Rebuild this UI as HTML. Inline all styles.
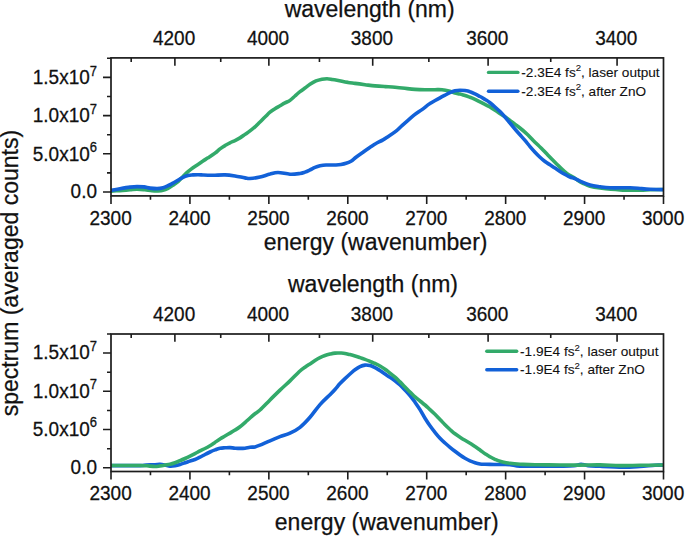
<!DOCTYPE html><html><head><meta charset="utf-8"><style>html,body{margin:0;padding:0;background:#fff;}svg{display:block;}text{font-family:"Liberation Sans",sans-serif;fill:#111;stroke:#111;stroke-width:0.25px;}</style></head><body>
<svg width="685" height="536" viewBox="0 0 685 536">
<clipPath id="cp0"><rect x="111.0" y="57.9" width="552.5" height="138.0"/></clipPath>
<path d="M110.0,191.2 C111.7,191.1 116.7,190.8 120.0,190.6 C123.3,190.4 127.2,190.0 130.0,189.8 C132.8,189.6 134.5,189.3 137.0,189.3 C139.5,189.3 142.5,189.6 145.0,189.8 C147.5,190.1 149.8,190.6 152.0,190.8 C154.2,191.0 156.2,191.1 158.0,191.0 C159.8,190.9 161.3,190.8 163.0,190.3 C164.7,189.9 166.3,189.2 168.0,188.3 C169.7,187.5 171.3,186.3 173.0,185.2 C174.7,184.1 176.3,183.1 178.0,181.6 C179.7,180.1 181.3,178.1 183.0,176.4 C184.7,174.8 186.3,173.1 188.0,171.7 C189.7,170.3 191.3,169.0 193.0,167.8 C194.7,166.6 196.3,165.5 198.0,164.4 C199.7,163.3 201.3,162.1 203.0,161.0 C204.7,159.9 206.0,159.1 208.0,157.8 C210.0,156.5 213.0,154.6 215.0,153.1 C217.0,151.6 218.3,150.2 220.0,148.9 C221.7,147.7 223.3,146.6 225.0,145.6 C226.7,144.6 228.3,143.6 230.0,142.8 C231.7,142.0 233.3,141.4 235.0,140.6 C236.7,139.8 238.3,138.9 240.0,137.9 C241.7,136.9 243.3,135.6 245.0,134.4 C246.7,133.2 248.3,132.2 250.0,130.9 C251.7,129.6 253.3,128.3 255.0,126.8 C256.7,125.3 258.3,123.6 260.0,122.0 C261.7,120.4 263.3,118.6 265.0,117.0 C266.7,115.4 268.3,113.6 270.0,112.2 C271.7,110.8 273.3,109.8 275.0,108.7 C276.7,107.6 278.3,106.8 280.0,105.8 C281.7,104.8 283.3,103.8 285.0,102.9 C286.7,102.0 288.3,101.6 290.0,100.4 C291.7,99.2 293.3,97.5 295.0,96.0 C296.7,94.5 298.3,92.9 300.0,91.6 C301.7,90.3 303.3,89.2 305.0,88.0 C306.7,86.8 308.2,85.5 310.0,84.3 C311.8,83.1 314.0,81.8 316.0,80.9 C318.0,80.1 320.2,79.6 322.0,79.2 C323.8,78.8 325.3,78.7 327.0,78.7 C328.7,78.7 330.3,79.1 332.0,79.4 C333.7,79.7 335.3,80.0 337.0,80.3 C338.7,80.6 340.2,80.9 342.0,81.3 C343.8,81.7 345.8,82.1 348.0,82.4 C350.2,82.8 352.2,83.0 355.0,83.4 C357.8,83.8 361.7,84.3 365.0,84.7 C368.3,85.1 371.7,85.6 375.0,85.9 C378.3,86.2 381.7,86.4 385.0,86.6 C388.3,86.8 391.7,86.9 395.0,87.2 C398.3,87.5 401.7,87.9 405.0,88.3 C408.3,88.7 411.7,89.2 415.0,89.4 C418.3,89.7 421.7,89.8 425.0,89.8 C428.3,89.8 432.2,89.7 435.0,89.7 C437.8,89.7 439.5,89.5 442.0,89.8 C444.5,90.1 447.8,90.8 450.0,91.3 C452.2,91.8 453.3,92.6 455.0,93.1 C456.7,93.6 458.3,93.7 460.0,94.1 C461.7,94.5 463.3,95.1 465.0,95.6 C466.7,96.1 468.3,96.7 470.0,97.3 C471.7,97.9 473.3,98.6 475.0,99.4 C476.7,100.2 478.3,101.1 480.0,101.9 C481.7,102.7 483.3,103.6 485.0,104.4 C486.7,105.2 487.8,105.7 490.0,107.0 C492.2,108.3 495.8,110.9 498.0,112.3 C500.2,113.7 501.3,114.5 503.0,115.6 C504.7,116.7 506.3,117.8 508.0,119.0 C509.7,120.2 511.3,121.5 513.0,122.7 C514.7,124.0 516.3,125.2 518.0,126.5 C519.7,127.8 521.3,129.1 523.0,130.5 C524.7,131.9 526.3,133.4 528.0,135.0 C529.7,136.6 531.3,138.5 533.0,140.2 C534.7,141.9 536.3,143.4 538.0,145.0 C539.7,146.6 541.3,148.3 543.0,150.0 C544.7,151.7 546.3,153.5 548.0,155.2 C549.7,156.9 551.3,158.6 553.0,160.3 C554.7,162.0 556.3,163.7 558.0,165.3 C559.7,167.0 561.3,168.7 563.0,170.2 C564.7,171.7 566.3,173.2 568.0,174.3 C569.7,175.4 571.3,176.0 573.0,177.0 C574.7,178.0 576.3,179.4 578.0,180.5 C579.7,181.6 581.0,182.4 583.0,183.3 C585.0,184.2 587.2,185.4 590.0,186.2 C592.8,187.0 595.0,187.4 600.0,188.0 C605.0,188.6 613.3,189.5 620.0,189.9 C626.7,190.3 635.0,190.2 640.0,190.2 C645.0,190.2 646.2,189.8 650.0,189.7 C653.8,189.6 660.8,189.5 663.0,189.5" fill="none" stroke="#33aa6a" stroke-width="3.6" stroke-linejoin="round" clip-path="url(#cp0)"/>
<path d="M110.0,190.6 C111.7,190.3 116.7,189.3 120.0,188.7 C123.3,188.1 127.2,187.4 130.0,187.1 C132.8,186.8 134.7,186.6 137.0,186.6 C139.3,186.6 141.8,186.7 144.0,186.9 C146.2,187.2 147.8,187.8 150.0,188.1 C152.2,188.4 154.8,188.6 157.0,188.6 C159.2,188.6 161.2,188.3 163.0,187.8 C164.8,187.3 166.3,186.5 168.0,185.7 C169.7,184.9 171.3,184.0 173.0,183.1 C174.7,182.2 176.3,181.2 178.0,180.2 C179.7,179.2 181.3,178.1 183.0,177.3 C184.7,176.5 186.3,176.0 188.0,175.6 C189.7,175.2 191.3,175.1 193.0,174.9 C194.7,174.8 196.3,174.7 198.0,174.7 C199.7,174.7 201.3,174.9 203.0,175.0 C204.7,175.1 206.0,175.2 208.0,175.2 C210.0,175.2 212.2,175.2 215.0,175.2 C217.8,175.1 221.7,174.8 225.0,174.9 C228.3,175.0 231.7,175.5 235.0,176.0 C238.3,176.5 242.5,177.5 245.0,177.9 C247.5,178.3 247.5,178.7 250.0,178.5 C252.5,178.3 256.7,177.7 260.0,177.0 C263.3,176.3 267.0,174.8 270.0,174.1 C273.0,173.3 274.7,172.5 278.0,172.5 C281.3,172.5 286.3,174.0 290.0,174.2 C293.7,174.4 297.5,173.8 300.0,173.5 C302.5,173.2 303.3,172.7 305.0,172.1 C306.7,171.5 308.3,170.7 310.0,169.9 C311.7,169.1 313.3,168.1 315.0,167.4 C316.7,166.7 318.2,166.2 320.0,165.8 C321.8,165.4 323.3,165.1 326.0,165.0 C328.7,164.9 333.5,165.1 336.0,165.0 C338.5,164.9 339.3,164.8 341.0,164.5 C342.7,164.2 344.3,163.9 346.0,163.3 C347.7,162.8 349.3,162.2 351.0,161.2 C352.7,160.2 354.0,158.7 356.0,157.2 C358.0,155.7 360.7,153.8 363.0,152.2 C365.3,150.5 367.8,148.8 370.0,147.3 C372.2,145.9 373.8,144.7 376.0,143.5 C378.2,142.3 380.8,141.2 383.0,139.9 C385.2,138.7 386.8,137.4 389.0,136.0 C391.2,134.6 393.8,132.9 396.0,131.2 C398.2,129.5 400.0,127.4 402.0,125.6 C404.0,123.8 406.0,122.0 408.0,120.3 C410.0,118.6 411.7,117.0 414.0,115.2 C416.3,113.4 419.3,111.5 422.0,109.6 C424.7,107.7 427.0,105.5 430.0,103.6 C433.0,101.6 437.5,99.3 440.0,97.9 C442.5,96.5 443.3,96.1 445.0,95.2 C446.7,94.3 448.3,93.4 450.0,92.7 C451.7,92.0 453.3,91.2 455.0,90.8 C456.7,90.4 458.3,90.2 460.0,90.2 C461.7,90.2 463.3,90.3 465.0,90.6 C466.7,90.9 468.3,91.2 470.0,91.8 C471.7,92.3 473.3,93.1 475.0,93.9 C476.7,94.7 478.3,95.6 480.0,96.5 C481.7,97.4 483.3,98.4 485.0,99.4 C486.7,100.5 488.3,101.5 490.0,102.8 C491.7,104.1 493.3,105.5 495.0,107.0 C496.7,108.5 498.3,109.9 500.0,111.6 C501.7,113.3 503.3,115.1 505.0,117.0 C506.7,118.9 508.3,121.0 510.0,123.0 C511.7,125.0 513.3,127.2 515.0,129.2 C516.7,131.2 518.3,132.9 520.0,134.8 C521.7,136.7 523.3,138.4 525.0,140.4 C526.7,142.4 528.3,144.6 530.0,146.6 C531.7,148.6 533.3,150.4 535.0,152.2 C536.7,154.0 538.3,155.6 540.0,157.2 C541.7,158.8 543.3,160.2 545.0,161.5 C546.7,162.8 548.3,163.7 550.0,164.8 C551.7,165.9 553.3,167.0 555.0,168.1 C556.7,169.2 558.3,170.4 560.0,171.5 C561.7,172.6 563.3,173.5 565.0,174.4 C566.7,175.3 568.3,176.3 570.0,177.0 C571.7,177.7 573.3,177.9 575.0,178.6 C576.7,179.3 577.5,180.0 580.0,181.1 C582.5,182.2 586.7,184.0 590.0,184.9 C593.3,185.8 596.7,186.2 600.0,186.7 C603.3,187.2 605.0,187.6 610.0,187.8 C615.0,188.0 625.0,187.7 630.0,187.8 C635.0,187.9 636.7,188.2 640.0,188.5 C643.3,188.8 646.2,189.1 650.0,189.3 C653.8,189.5 660.8,189.6 663.0,189.6" fill="none" stroke="#1261d8" stroke-width="3.6" stroke-linejoin="round" clip-path="url(#cp0)"/>
<rect x="111.00" y="57.90" width="552.50" height="138.00" fill="none" stroke="#1c1c1c" stroke-width="1.7"/>
<path d="M111.00,195.90v8.00 M150.46,195.90v3.80 M189.93,195.90v8.00 M229.39,195.90v3.80 M268.86,195.90v8.00 M308.32,195.90v3.80 M347.79,195.90v8.00 M387.25,195.90v3.80 M426.71,195.90v8.00 M466.18,195.90v3.80 M505.64,195.90v8.00 M545.11,195.90v3.80 M584.57,195.90v8.00 M624.04,195.90v3.80 M663.50,195.90v8.00 M111.00,192.00h-8.00 M111.00,172.90h-4.00 M111.00,153.80h-8.00 M111.00,134.70h-4.00 M111.00,115.60h-8.00 M111.00,96.50h-4.00 M111.00,77.40h-8.00 M111.00,58.30h-4.00 M617.07,57.90v7.80 M550.74,57.90v4.00 M488.10,57.90v7.80 M428.85,57.90v4.00 M372.71,57.90v7.80 M319.45,57.90v4.00 M268.86,57.90v7.80 M220.73,57.90v4.00 M174.89,57.90v7.80 M131.19,57.90v4.00" stroke="#1c1c1c" stroke-width="1.6" fill="none"/>
<text transform="translate(110.60,225.00) scale(1,1.07)" font-size="19" text-anchor="middle">2300</text>
<text transform="translate(189.53,225.00) scale(1,1.07)" font-size="19" text-anchor="middle">2400</text>
<text transform="translate(268.46,225.00) scale(1,1.07)" font-size="19" text-anchor="middle">2500</text>
<text transform="translate(347.39,225.00) scale(1,1.07)" font-size="19" text-anchor="middle">2600</text>
<text transform="translate(426.31,225.00) scale(1,1.07)" font-size="19" text-anchor="middle">2700</text>
<text transform="translate(505.24,225.00) scale(1,1.07)" font-size="19" text-anchor="middle">2800</text>
<text transform="translate(584.17,225.00) scale(1,1.07)" font-size="19" text-anchor="middle">2900</text>
<text transform="translate(663.10,225.00) scale(1,1.07)" font-size="19" text-anchor="middle">3000</text>
<text transform="translate(174.09,45.00) scale(1,1.07)" font-size="19" text-anchor="middle">4200</text>
<text transform="translate(268.06,45.00) scale(1,1.07)" font-size="19" text-anchor="middle">4000</text>
<text transform="translate(371.91,45.00) scale(1,1.07)" font-size="19" text-anchor="middle">3800</text>
<text transform="translate(487.30,45.00) scale(1,1.07)" font-size="19" text-anchor="middle">3600</text>
<text transform="translate(616.27,45.00) scale(1,1.07)" font-size="19" text-anchor="middle">3400</text>
<text transform="translate(97,198.20) scale(1,1.07)" font-size="19" text-anchor="end">0.0</text>
<text transform="translate(97,160.50) scale(1,1.07)" font-size="19" text-anchor="end">5.0x10<tspan font-size="13" dy="-8">6</tspan></text>
<text transform="translate(97,122.30) scale(1,1.07)" font-size="19" text-anchor="end">1.0x10<tspan font-size="13" dy="-8">7</tspan></text>
<text transform="translate(97,84.10) scale(1,1.07)" font-size="19" text-anchor="end">1.5x10<tspan font-size="13" dy="-8">7</tspan></text>
<text x="369.70" y="17.20" font-size="23" text-anchor="middle">wavelength (nm)</text>
<text x="375.60" y="250.00" font-size="23" text-anchor="middle">energy (wavenumber)</text>
<path d="M488.5,72.4H517.9" stroke-width="3.4" stroke-linecap="round" fill="none" stroke="#33aa6a"/>
<path d="M488.5,91.2H517.9" stroke-width="3.4" stroke-linecap="round" fill="none" stroke="#1261d8"/>
<text x="521.3" y="76.7" font-size="13.6" style="stroke-width:0.1px">-2.3E4 fs<tspan font-size="9.6" dy="-5.4">2</tspan><tspan dy="5.4">, laser output</tspan></text>
<text x="521.3" y="95.5" font-size="13.6" style="stroke-width:0.1px">-2.3E4 fs<tspan font-size="9.6" dy="-5.4">2</tspan><tspan dy="5.4">, after ZnO</tspan></text>
<clipPath id="cp1"><rect x="111.0" y="334.0" width="552.5" height="137.5"/></clipPath>
<path d="M110.0,465.6 C115.0,465.6 134.0,465.7 140.0,465.6 C146.0,465.5 143.5,465.1 146.0,465.0 C148.5,464.9 152.7,464.8 155.0,464.7 C157.3,464.6 158.3,464.3 160.0,464.4 C161.7,464.5 163.3,464.8 165.0,465.1 C166.7,465.4 168.3,466.0 170.0,466.1 C171.7,466.2 173.3,466.0 175.0,465.7 C176.7,465.4 178.3,465.0 180.0,464.5 C181.7,464.0 183.3,463.4 185.0,462.8 C186.7,462.2 188.3,461.7 190.0,461.1 C191.7,460.6 193.3,460.1 195.0,459.5 C196.7,458.9 198.3,458.0 200.0,457.2 C201.7,456.4 203.3,455.4 205.0,454.5 C206.7,453.6 208.3,452.8 210.0,452.0 C211.7,451.2 213.3,450.5 215.0,449.9 C216.7,449.2 218.3,448.5 220.0,448.2 C221.7,447.9 223.3,447.9 225.0,447.8 C226.7,447.7 228.3,447.5 230.0,447.6 C231.7,447.7 233.3,448.1 235.0,448.2 C236.7,448.3 238.3,448.4 240.0,448.4 C241.7,448.4 243.3,448.4 245.0,448.2 C246.7,448.0 248.3,447.5 250.0,447.3 C251.7,447.1 253.3,447.2 255.0,446.9 C256.7,446.5 257.5,446.2 260.0,445.2 C262.5,444.2 266.7,442.2 270.0,440.8 C273.3,439.4 276.7,438.0 280.0,436.7 C283.3,435.4 286.7,434.8 290.0,433.2 C293.3,431.6 296.7,429.9 300.0,427.3 C303.3,424.7 306.7,421.1 310.0,417.3 C313.3,413.5 316.7,408.4 320.0,404.6 C323.3,400.8 327.5,397.2 330.0,394.7 C332.5,392.2 333.3,391.4 335.0,389.5 C336.7,387.6 338.3,385.4 340.0,383.6 C341.7,381.8 343.3,380.2 345.0,378.6 C346.7,377.0 348.3,375.5 350.0,374.0 C351.7,372.5 353.3,370.9 355.0,369.7 C356.7,368.5 358.3,367.4 360.0,366.6 C361.7,365.8 363.3,365.3 365.0,365.1 C366.7,364.9 368.3,365.2 370.0,365.6 C371.7,366.0 373.3,366.9 375.0,367.7 C376.7,368.5 378.3,369.6 380.0,370.6 C381.7,371.7 383.3,372.9 385.0,374.0 C386.7,375.1 388.3,376.2 390.0,377.3 C391.7,378.4 393.3,379.5 395.0,380.8 C396.7,382.1 398.3,383.5 400.0,385.0 C401.7,386.5 403.3,388.2 405.0,390.0 C406.7,391.8 408.3,393.5 410.0,395.5 C411.7,397.5 413.3,399.8 415.0,402.2 C416.7,404.6 418.3,406.9 420.0,409.6 C421.7,412.3 423.3,415.5 425.0,418.2 C426.7,420.9 428.3,423.4 430.0,425.8 C431.7,428.2 433.3,430.3 435.0,432.4 C436.7,434.5 438.3,436.5 440.0,438.3 C441.7,440.1 443.3,441.5 445.0,443.0 C446.7,444.5 448.3,445.9 450.0,447.3 C451.7,448.7 453.3,450.0 455.0,451.3 C456.7,452.6 458.3,453.8 460.0,455.0 C461.7,456.2 463.3,457.3 465.0,458.3 C466.7,459.3 468.3,460.2 470.0,460.9 C471.7,461.6 473.3,462.2 475.0,462.7 C476.7,463.2 478.3,463.6 480.0,463.9 C481.7,464.2 483.3,464.2 485.0,464.3 C486.7,464.4 487.5,464.4 490.0,464.4 C492.5,464.4 496.7,464.5 500.0,464.5 C503.3,464.5 506.7,464.3 510.0,464.6 C513.3,464.9 515.0,465.9 520.0,466.2 C525.0,466.5 533.3,466.2 540.0,466.2 C546.7,466.2 554.3,466.3 560.0,466.2 C565.7,466.1 570.5,466.1 574.0,465.8 C577.5,465.5 578.7,464.3 581.0,464.3 C583.3,464.3 584.8,465.3 588.0,465.6 C591.2,465.9 594.2,466.0 600.0,466.3 C605.8,466.6 616.3,467.2 623.0,467.2 C629.7,467.2 634.7,466.8 640.0,466.5 C645.3,466.2 651.2,465.4 655.0,465.2 C658.8,465.0 661.7,465.2 663.0,465.2" fill="none" stroke="#1261d8" stroke-width="3.6" stroke-linejoin="round" clip-path="url(#cp1)"/>
<path d="M110.0,465.5 C115.0,465.5 133.8,465.4 140.0,465.5 C146.2,465.6 144.5,465.6 147.0,465.8 C149.5,466.0 152.8,466.5 155.0,466.5 C157.2,466.5 158.3,466.1 160.0,465.9 C161.7,465.7 163.3,465.4 165.0,465.1 C166.7,464.8 168.3,464.6 170.0,464.2 C171.7,463.9 173.3,463.4 175.0,462.8 C176.7,462.2 178.3,461.4 180.0,460.7 C181.7,460.0 183.3,459.3 185.0,458.5 C186.7,457.7 188.3,456.9 190.0,456.1 C191.7,455.3 193.3,454.5 195.0,453.6 C196.7,452.7 198.3,451.8 200.0,450.9 C201.7,450.0 203.3,449.4 205.0,448.5 C206.7,447.6 208.3,446.7 210.0,445.7 C211.7,444.7 213.3,443.5 215.0,442.4 C216.7,441.2 218.3,440.0 220.0,438.9 C221.7,437.8 223.3,437.0 225.0,436.0 C226.7,435.0 228.3,434.1 230.0,433.1 C231.7,432.1 233.3,431.2 235.0,430.1 C236.7,429.1 238.3,428.1 240.0,426.8 C241.7,425.6 243.3,424.1 245.0,422.6 C246.7,421.1 248.3,419.5 250.0,418.0 C251.7,416.5 253.3,415.1 255.0,413.8 C256.7,412.5 257.5,412.3 260.0,410.0 C262.5,407.7 266.7,403.2 270.0,399.9 C273.3,396.6 276.7,393.3 280.0,390.1 C283.3,386.9 286.7,384.1 290.0,380.9 C293.3,377.7 297.5,373.3 300.0,371.0 C302.5,368.7 303.3,368.4 305.0,367.2 C306.7,366.0 308.3,365.0 310.0,363.9 C311.7,362.8 313.3,361.6 315.0,360.5 C316.7,359.4 318.3,358.4 320.0,357.6 C321.7,356.8 323.3,356.1 325.0,355.5 C326.7,354.9 328.3,354.5 330.0,354.1 C331.7,353.7 333.3,353.3 335.0,353.1 C336.7,352.9 338.3,352.9 340.0,353.0 C341.7,353.1 343.3,353.1 345.0,353.4 C346.7,353.7 348.3,354.2 350.0,354.6 C351.7,355.0 353.3,355.4 355.0,355.9 C356.7,356.4 358.3,357.0 360.0,357.6 C361.7,358.2 363.3,358.8 365.0,359.4 C366.7,360.0 368.3,360.7 370.0,361.4 C371.7,362.1 373.3,362.7 375.0,363.5 C376.7,364.3 378.3,365.0 380.0,366.0 C381.7,367.0 383.3,368.1 385.0,369.3 C386.7,370.5 388.3,371.8 390.0,373.1 C391.7,374.4 393.3,375.7 395.0,377.2 C396.7,378.7 398.3,380.3 400.0,381.9 C401.7,383.5 403.3,385.3 405.0,387.0 C406.7,388.7 408.3,390.4 410.0,392.0 C411.7,393.6 413.3,395.3 415.0,396.8 C416.7,398.3 418.3,399.6 420.0,401.0 C421.7,402.4 423.3,403.6 425.0,405.0 C426.7,406.4 428.3,408.1 430.0,409.7 C431.7,411.2 433.3,412.7 435.0,414.3 C436.7,415.9 438.3,417.8 440.0,419.5 C441.7,421.2 443.3,423.1 445.0,424.8 C446.7,426.5 448.3,428.0 450.0,429.5 C451.7,431.0 453.3,432.5 455.0,433.8 C456.7,435.1 458.3,436.1 460.0,437.2 C461.7,438.3 463.3,439.3 465.0,440.3 C466.7,441.3 468.3,442.2 470.0,443.2 C471.7,444.2 473.3,445.4 475.0,446.5 C476.7,447.6 478.3,448.8 480.0,450.0 C481.7,451.2 483.3,452.6 485.0,453.7 C486.7,454.8 488.3,455.9 490.0,456.8 C491.7,457.8 493.3,458.6 495.0,459.4 C496.7,460.1 498.3,460.8 500.0,461.3 C501.7,461.8 503.3,462.2 505.0,462.5 C506.7,462.8 507.5,463.0 510.0,463.3 C512.5,463.6 515.8,463.9 520.0,464.2 C524.2,464.4 528.3,464.7 535.0,464.8 C541.7,464.9 552.5,464.9 560.0,465.0 C567.5,465.1 573.3,465.1 580.0,465.1 C586.7,465.1 593.3,464.8 600.0,464.9 C606.7,465.0 613.3,465.5 620.0,465.6 C626.7,465.7 632.8,465.4 640.0,465.3 C647.2,465.2 659.2,465.1 663.0,465.0" fill="none" stroke="#33aa6a" stroke-width="3.6" stroke-linejoin="round" clip-path="url(#cp1)"/>
<rect x="111.00" y="334.00" width="552.50" height="137.50" fill="none" stroke="#1c1c1c" stroke-width="1.7"/>
<path d="M111.00,471.50v8.00 M150.46,471.50v3.80 M189.93,471.50v8.00 M229.39,471.50v3.80 M268.86,471.50v8.00 M308.32,471.50v3.80 M347.79,471.50v8.00 M387.25,471.50v3.80 M426.71,471.50v8.00 M466.18,471.50v3.80 M505.64,471.50v8.00 M545.11,471.50v3.80 M584.57,471.50v8.00 M624.04,471.50v3.80 M663.50,471.50v8.00 M111.00,467.80h-8.00 M111.00,448.68h-4.00 M111.00,429.55h-8.00 M111.00,410.43h-4.00 M111.00,391.30h-8.00 M111.00,372.18h-4.00 M111.00,353.05h-8.00 M111.00,333.93h-4.00 M617.07,334.00v7.80 M550.74,334.00v4.00 M488.10,334.00v7.80 M428.85,334.00v4.00 M372.71,334.00v7.80 M319.45,334.00v4.00 M268.86,334.00v7.80 M220.73,334.00v4.00 M174.89,334.00v7.80 M131.19,334.00v4.00" stroke="#1c1c1c" stroke-width="1.6" fill="none"/>
<text transform="translate(110.60,499.85) scale(1,1.07)" font-size="19" text-anchor="middle">2300</text>
<text transform="translate(189.53,499.85) scale(1,1.07)" font-size="19" text-anchor="middle">2400</text>
<text transform="translate(268.46,499.85) scale(1,1.07)" font-size="19" text-anchor="middle">2500</text>
<text transform="translate(347.39,499.85) scale(1,1.07)" font-size="19" text-anchor="middle">2600</text>
<text transform="translate(426.31,499.85) scale(1,1.07)" font-size="19" text-anchor="middle">2700</text>
<text transform="translate(505.24,499.85) scale(1,1.07)" font-size="19" text-anchor="middle">2800</text>
<text transform="translate(584.17,499.85) scale(1,1.07)" font-size="19" text-anchor="middle">2900</text>
<text transform="translate(663.10,499.85) scale(1,1.07)" font-size="19" text-anchor="middle">3000</text>
<text transform="translate(174.09,320.75) scale(1,1.07)" font-size="19" text-anchor="middle">4200</text>
<text transform="translate(268.06,320.75) scale(1,1.07)" font-size="19" text-anchor="middle">4000</text>
<text transform="translate(371.91,320.75) scale(1,1.07)" font-size="19" text-anchor="middle">3800</text>
<text transform="translate(487.30,320.75) scale(1,1.07)" font-size="19" text-anchor="middle">3600</text>
<text transform="translate(616.27,320.75) scale(1,1.07)" font-size="19" text-anchor="middle">3400</text>
<text transform="translate(97,473.60) scale(1,1.07)" font-size="19" text-anchor="end">0.0</text>
<text transform="translate(97,435.85) scale(1,1.07)" font-size="19" text-anchor="end">5.0x10<tspan font-size="13" dy="-8">6</tspan></text>
<text transform="translate(97,397.60) scale(1,1.07)" font-size="19" text-anchor="end">1.0x10<tspan font-size="13" dy="-8">7</tspan></text>
<text transform="translate(97,359.35) scale(1,1.07)" font-size="19" text-anchor="end">1.5x10<tspan font-size="13" dy="-8">7</tspan></text>
<text x="373.00" y="291.60" font-size="23" text-anchor="middle">wavelength (nm)</text>
<text x="386.70" y="529.60" font-size="23" text-anchor="middle">energy (wavenumber)</text>
<path d="M486.8,351.3H516.7" stroke-width="3.4" stroke-linecap="round" fill="none" stroke="#33aa6a"/>
<path d="M486.8,369.7H516.7" stroke-width="3.4" stroke-linecap="round" fill="none" stroke="#1261d8"/>
<text x="520.1" y="355.9" font-size="13.6" style="stroke-width:0.1px">-1.9E4 fs<tspan font-size="9.6" dy="-5.4">2</tspan><tspan dy="5.4">, laser output</tspan></text>
<text x="520.1" y="374.1" font-size="13.6" style="stroke-width:0.1px">-1.9E4 fs<tspan font-size="9.6" dy="-5.4">2</tspan><tspan dy="5.4">, after ZnO</tspan></text>
<text transform="translate(17.8,273.1) rotate(-90)" font-size="23" text-anchor="middle">spectrum (averaged counts)</text>
</svg></body></html>
